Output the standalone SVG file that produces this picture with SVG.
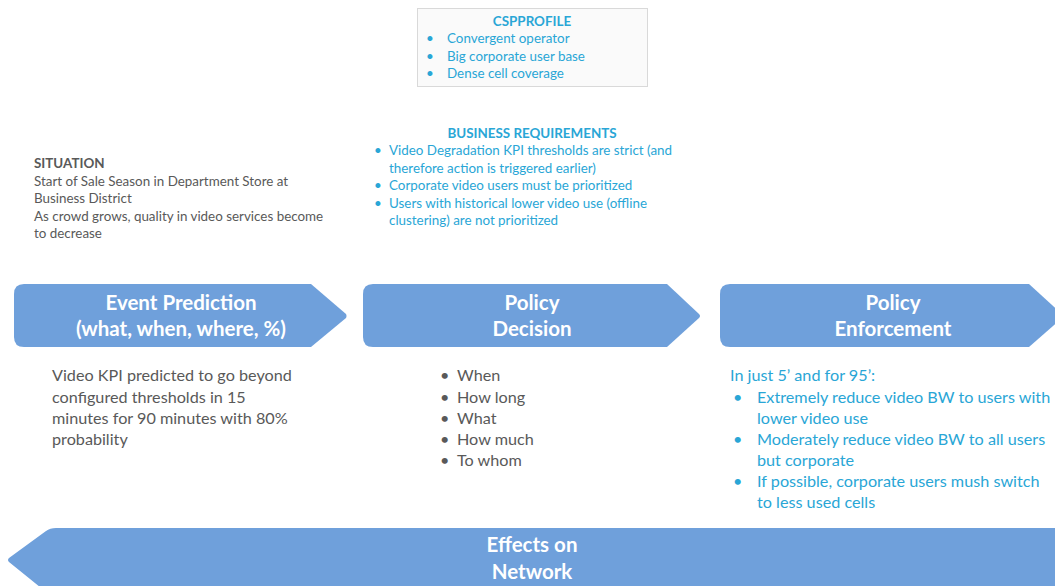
<svg xmlns="http://www.w3.org/2000/svg" width="1055" height="586" viewBox="0 0 1055 586">
<style>
.blue{fill:#29a6d6;font-family:Lato,"Open Sans",sans-serif;font-size:13.4px}
.blueb{fill:#29a6d6;font-family:Lato,"Open Sans",sans-serif;font-size:13.4px;font-weight:bold}
.gray{fill:#595959;font-family:Lato,"Open Sans",sans-serif;font-size:13.4px}
.grayb{fill:#595959;font-family:Lato,"Open Sans",sans-serif;font-size:13.4px;font-weight:bold}
.body{fill:#595959;font-family:Lato,"Open Sans",sans-serif;font-size:16.2px}
.bodyb{fill:#29a6d6;font-family:Lato,"Open Sans",sans-serif;font-size:16.2px}
.head{fill:#ffffff;font-family:Lato,"Open Sans",sans-serif;font-size:20.5px;font-weight:bold;text-anchor:middle}
.shape{fill:#6fa0db}
</style>
<rect width="1055" height="586" fill="#ffffff"/>
<g id="csp-profile">
<rect x="417.5" y="8.5" width="230" height="78" fill="#fafafa" stroke="#d9d9d9" stroke-width="1"/>
<text class="blueb" x="532" y="25.5" text-anchor="middle">CSPPROFILE</text>
<text class="blue" x="426" y="42.5">•</text><text class="blue" x="447" y="42.5">Convergent operator</text>
<text class="blue" x="426" y="60.5">•</text><text class="blue" x="447" y="60.5">Big corporate user base</text>
<text class="blue" x="426" y="77.5">•</text><text class="blue" x="447" y="77.5">Dense cell coverage</text>
</g>
<g id="business-requirements">
<text class="blueb" x="532" y="137.5" text-anchor="middle">BUSINESS REQUIREMENTS</text>
<text class="blue" x="374" y="154.5">•</text><text class="blue" x="389" y="154.5">Video Degradation KPI thresholds are strict (and</text>
<text class="blue" x="389" y="172.5">therefore action is triggered earlier)</text>
<text class="blue" x="374" y="189.5">•</text><text class="blue" x="389" y="189.5">Corporate video users must  be prioritized</text>
<text class="blue" x="374" y="207.5">•</text><text class="blue" x="389" y="207.5">Users with historical lower video use (offline</text>
<text class="blue" x="389" y="224.5">clustering) are not prioritized</text>
</g>
<g id="situation">
<text class="grayb" x="34" y="167.5">SITUATION</text>
<text class="gray" x="34" y="185.5">Start of Sale Season in Department Store at</text>
<text class="gray" x="34" y="202.5">Business District</text>
<text class="gray" x="34" y="220.5">As crowd grows, quality in video services become</text>
<text class="gray" x="34" y="237.5">to decrease</text>
</g>
<g id="event-prediction">
<path class="shape" d="M24,284 H311 L346,314 Q347,316 346,318 L311,347 H24 Q14,347 14,337 V294 Q14,284 24,284 Z"/>
<text class="head" x="181" y="310">Event Prediction</text>
<text class="head" x="181" y="336">(what, when, where, %)</text>
<text class="body" x="52" y="380.5">Video KPI predicted to go beyond</text>
<text class="body" x="52" y="402.5">configured thresholds in 15</text>
<text class="body" x="52" y="423.5">minutes for 90 minutes with 80%</text>
<text class="body" x="52" y="444.5">probability</text>
</g>
<g id="policy-decision">
<path class="shape" d="M373,284 H667 L699,314 Q701,316 699,318 L667,347 H373 Q363,347 363,337 V294 Q363,284 373,284 Z"/>
<text class="head" x="532" y="310">Policy</text>
<text class="head" x="532" y="336">Decision</text>
<text class="body" x="440" y="380.5">•</text><text class="body" x="457" y="380.5">When</text>
<text class="body" x="440" y="402.5">•</text><text class="body" x="457" y="402.5">How long</text>
<text class="body" x="440" y="423.5">•</text><text class="body" x="457" y="423.5">What</text>
<text class="body" x="440" y="444.5">•</text><text class="body" x="457" y="444.5">How much</text>
<text class="body" x="440" y="465.5">•</text><text class="body" x="457" y="465.5">To whom</text>
</g>
<g id="policy-enforcement">
<path class="shape" d="M730,284 H1029 L1062,314 Q1064,316 1062,318 L1029,347 H730 Q720,347 720,337 V294 Q720,284 730,284 Z"/>
<text class="head" x="893" y="310">Policy</text>
<text class="head" x="893" y="336">Enforcement</text>
<text class="bodyb" x="730" y="380.5">In just 5’ and for 95’:</text>
<text class="bodyb" x="733" y="402.5">•</text><text class="bodyb" x="757" y="402.5">Extremely reduce video BW to users with</text>
<text class="bodyb" x="757" y="423.5">lower video use</text>
<text class="bodyb" x="733" y="444.5">•</text><text class="bodyb" x="757" y="444.5">Moderately reduce video BW to all users</text>
<text class="bodyb" x="757" y="465.5">but corporate</text>
<text class="bodyb" x="733" y="486.5">•</text><text class="bodyb" x="757" y="486.5">If possible, corporate users mush switch</text>
<text class="bodyb" x="757" y="507.5">to less used cells</text>
</g>
<g id="effects-on-network">
<path class="shape" d="M56,528 H1065 V600 H56 L9,562 Q7,560 9,558 L46,531 Q50,528 56,528 Z"/>
<text class="head" x="532" y="552">Effects on</text>
<text class="head" x="532" y="579">Network</text>
</g>
<g id="connectors"></g>
</svg>
